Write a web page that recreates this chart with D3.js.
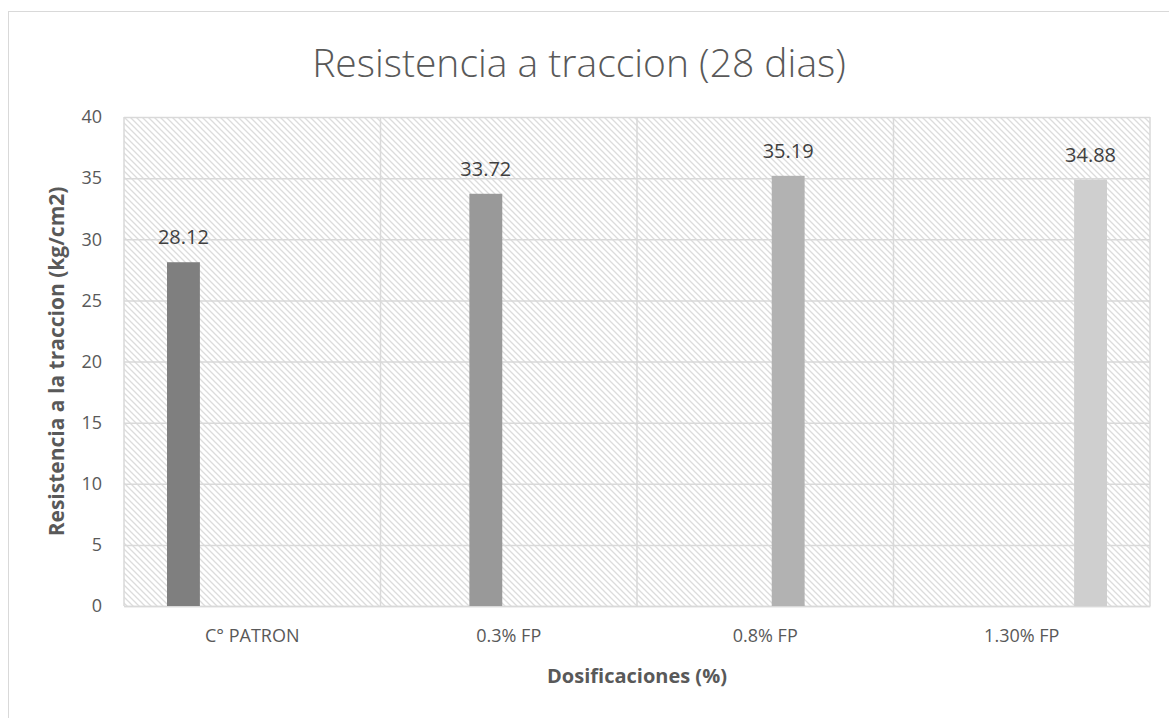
<!DOCTYPE html>
<html>
<head>
<meta charset="utf-8">
<script src="https://cdn.jsdelivr.net/npm/d3@7"></script>
<style>
  body { margin: 0; background: #fff; }
  text { font-family: "Open Sans", "Noto Sans", sans-serif; }
</style>
</head>
<body>
<div id="chart"></div>
<script>
var categories = ["C° PATRON", "0.3% FP", "0.8% FP", "1.30% FP"]
var series = ["s1", "s2", "s3", "s4"]
var values = [28.12, 33.72, 35.19, 34.88]
var yTicks = [0, 5, 10, 15, 20, 25, 30, 35, 40]
var barColors = ["#7f7f7f", "#999999", "#b2b2b2", "#cfcfcf"]

var width = 1169, height = 718
var margin = {top: 117, right: 19, bottom: 112, left: 124}
var plotW = width - margin.left - margin.right,
    plotH = height - margin.top - margin.bottom

var svg = d3.select("#chart").append("svg")
  .attr("width", width)
  .attr("height", height)

// diagonal hatch for the plot background
var pattern = svg.append("defs").append("pattern")
  .attr("id", "hatch")
  .attr("patternUnits", "userSpaceOnUse")
  .attr("width", 6)
  .attr("height", 6)
pattern.append("rect").attr("width", 6).attr("height", 6).attr("fill", "#fff")
pattern.append("path")
  .attr("d", "M-1,-1 L7,7 M-1,5 L1,7 M5,-1 L7,1")
  .attr("stroke", "#dcdcdc")
  .attr("stroke-width", 1.3)

// chart area border
svg.append("rect")
  .attr("x", 8.5).attr("y", 11.5)
  .attr("width", 1200).attr("height", 760)
  .attr("fill", "none")
  .attr("stroke", "#d9d9d9")

var g = svg.append("g")
  .attr("transform", "translate(" + margin.left + "," + margin.top + ")")

var xScale = d3.scaleBand()
  .domain(categories)
  .range([0, plotW])

var xSub = d3.scaleBand()
  .domain(series)
  .range([43, xScale.bandwidth() - 43])
  .paddingInner(0.283)

var yScale = d3.scaleLinear()
  .domain([0, 40])
  .range([plotH, 0])

g.append("rect")
  .attr("width", plotW)
  .attr("height", plotH)
  .attr("fill", "url(#hatch)")

// gridlines
var yAxis = d3.axisLeft(yScale)
  .tickValues(yTicks)
  .tickSize(-plotW)
  .tickPadding(22)

var yG = g.append("g").attr("class", "y axis").call(yAxis)
yG.select(".domain").remove()
yG.selectAll("line").attr("stroke", "#d9d9d9").attr("stroke-width", 1.5)
yG.selectAll("text")
  .attr("fill", "#595959")
  .style("font-size", "18px")

g.selectAll(".vgrid")
  .data(categories.concat(["end"]))
  .enter().append("line")
  .attr("class", "vgrid")
  .attr("x1", function(d, i) { return i < categories.length ? xScale(d) : plotW })
  .attr("x2", function(d, i) { return i < categories.length ? xScale(d) : plotW })
  .attr("y1", 0)
  .attr("y2", plotH)
  .attr("stroke", "#d9d9d9")
  .attr("stroke-width", 1.5)

var xAxis = d3.axisBottom(xScale)
  .tickSize(0)
  .tickPadding(23)

var xG = g.append("g")
  .attr("class", "x axis")
  .attr("transform", "translate(0," + plotH + ")")
  .call(xAxis)
xG.select(".domain").attr("stroke", "#d9d9d9").attr("stroke-width", 1.5)
xG.selectAll("text")
  .attr("fill", "#595959")
  .style("font-size", "18px")

g.selectAll(".bar")
  .data(values)
  .enter().append("rect")
  .attr("class", "bar")
  .attr("x", function(d, i) { return xScale(categories[i]) + xSub(series[i]) })
  .attr("width", xSub.bandwidth())
  .attr("y", function(d) { return yScale(d) })
  .attr("height", function(d) { return plotH - yScale(d) })
  .style("fill", function(d, i) { return barColors[i] })

g.selectAll(".label")
  .data(values)
  .enter().append("text")
  .attr("class", "label")
  .attr("x", function(d, i) { return xScale(categories[i]) + xSub(series[i]) + xSub.bandwidth() / 2 })
  .attr("y", function(d) { return yScale(d) - 18 })
  .attr("text-anchor", "middle")
  .attr("fill", "#404040")
  .style("font-size", "20px")
  .text(function(d) { return d.toFixed(2) })

svg.append("text")
  .attr("x", 579)
  .attr("y", 77)
  .attr("text-anchor", "middle")
  .attr("fill", "#595959")
  .style("font-size", "39px")
  .style("font-weight", "300")
  .text("Resistencia a traccion (28 dias)")

svg.append("text")
  .attr("x", margin.left + plotW / 2)
  .attr("y", 683)
  .attr("text-anchor", "middle")
  .attr("fill", "#595959")
  .style("font-size", "20px")
  .style("font-weight", "bold")
  .text("Dosificaciones (%)")

svg.append("text")
  .attr("transform", "translate(64," + (margin.top + plotH / 2) + ") rotate(-90)")
  .attr("text-anchor", "middle")
  .attr("fill", "#595959")
  .style("font-size", "21px")
  .style("font-weight", "bold")
  .text("Resistencia a la traccion (kg/cm2)")
</script>
</body>
</html>
